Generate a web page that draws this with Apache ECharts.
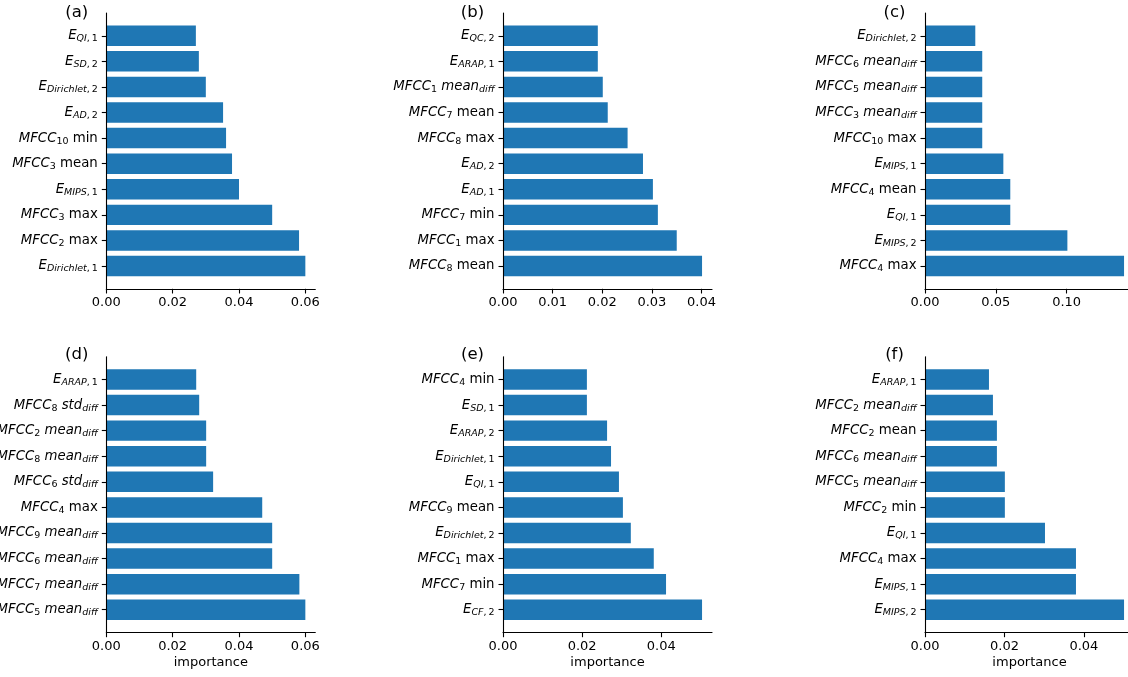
<!DOCTYPE html>
<html>
<head>
<meta charset="utf-8">
<script src="https://cdn.jsdelivr.net/npm/echarts@6/dist/echarts.min.js"></script>
<style>
html, body { margin: 0; padding: 0; background: #fff; }
#main { width: 1128px; height: 677px; }
</style>
</head>
<body>
<div id="main"></div>
<script>
// categories listed bottom -> top (same order as matplotlib barh)
var labelsA = ['E_{Dirichlet,1}', 'MFCC_{2} max', 'MFCC_{3} max', 'E_{MIPS,1}', 'MFCC_{3} mean',
    'MFCC_{10} min', 'E_{AD,2}', 'E_{Dirichlet,2}', 'E_{SD,2}', 'E_{QI,1}'];
var valuesA = [0.0600, 0.0581, 0.0500, 0.0400, 0.0379, 0.0361, 0.0352, 0.0300, 0.0279, 0.0270];

var labelsB = ['MFCC_{8} mean', 'MFCC_{1} max', 'MFCC_{7} min', 'E_{AD,1}', 'E_{AD,2}',
    'MFCC_{8} max', 'MFCC_{7} mean', 'MFCC_{1} mean_{diff}', 'E_{ARAP,1}', 'E_{QC,2}'];
var valuesB = [0.0401, 0.0350, 0.0312, 0.0302, 0.0282, 0.0251, 0.0211, 0.0201, 0.0191, 0.0191];

var labelsC = ['MFCC_{4} max', 'E_{MIPS,2}', 'E_{QI,1}', 'MFCC_{4} mean', 'E_{MIPS,1}',
    'MFCC_{10} max', 'MFCC_{3} mean_{diff}', 'MFCC_{5} mean_{diff}', 'MFCC_{6} mean_{diff}', 'E_{Dirichlet,2}'];
var valuesC = [0.1405, 0.1005, 0.0602, 0.0602, 0.0553, 0.0404, 0.0404, 0.0404, 0.0404, 0.0355];

var labelsD = ['MFCC_{5} mean_{diff}', 'MFCC_{7} mean_{diff}', 'MFCC_{6} mean_{diff}', 'MFCC_{9} mean_{diff}', 'MFCC_{4} max',
    'MFCC_{6} std_{diff}', 'MFCC_{8} mean_{diff}', 'MFCC_{2} mean_{diff}', 'MFCC_{8} std_{diff}', 'E_{ARAP,1}'];
var valuesD = [0.0600, 0.0582, 0.0500, 0.0500, 0.0470, 0.0322, 0.0301, 0.0301, 0.0280, 0.0271];

var labelsE = ['E_{CF,2}', 'MFCC_{7} min', 'MFCC_{1} max', 'E_{Dirichlet,2}', 'MFCC_{9} mean',
    'E_{QI,1}', 'E_{Dirichlet,1}', 'E_{ARAP,2}', 'E_{SD,1}', 'MFCC_{4} min'];
var valuesE = [0.0503, 0.0412, 0.0381, 0.0323, 0.0303, 0.0293, 0.0273, 0.0263, 0.0212, 0.0212];

var labelsF = ['E_{MIPS,2}', 'E_{MIPS,1}', 'MFCC_{4} max', 'E_{QI,1}', 'MFCC_{2} min',
    'MFCC_{5} mean_{diff}', 'MFCC_{6} mean_{diff}', 'MFCC_{2} mean', 'MFCC_{2} mean_{diff}', 'E_{ARAP,1}'];
var valuesF = [0.0501, 0.0380, 0.0380, 0.0302, 0.0201, 0.0201, 0.0181, 0.0181, 0.0171, 0.0161];

var ticksA = [0, 0.02, 0.04, 0.06];
var ticksB = [0, 0.01, 0.02, 0.03, 0.04];
var ticksC = [0, 0.05, 0.10];
var ticksD = [0, 0.02, 0.04, 0.06];
var ticksE = [0, 0.02, 0.04];
var ticksF = [0, 0.02, 0.04];

var panelNames = ['(a)', '(b)', '(c)', '(d)', '(e)', '(f)'];
var xName = 'importance';

var panels = [
    { labels: labelsA, values: valuesA, ticks: ticksA },
    { labels: labelsB, values: valuesB, ticks: ticksB },
    { labels: labelsC, values: valuesC, ticks: ticksC },
    { labels: labelsD, values: valuesD, ticks: ticksD },
    { labels: labelsE, values: valuesE, ticks: ticksE },
    { labels: labelsF, values: valuesF, ticks: ticksF }
];

var FONT = 'DejaVu Sans';
var BLUE = '#1f77b4';

// turn 'MFCC_{3} mean_{diff}' into echarts rich text (mathtext look)
function mathLabel(s) {
    var out = [];
    var words = s.split(' ');
    for (var i = 0; i < words.length; i++) {
        var w = words[i];
        if (i > 0) out.push('{rm| }');
        var k = w.indexOf('_{');
        if (k < 0) {
            out.push('{rm|' + w + '}');
            continue;
        }
        out.push('{it|' + w.slice(0, k) + '}');
        var sub = w.slice(k + 2, w.length - 1);
        var runs = sub.match(/[A-Za-z]+|[^A-Za-z]+/g);
        for (var j = 0; j < runs.length; j++) {
            if (/[A-Za-z]/.test(runs[j])) out.push('{si|' + runs[j] + '}');
            else out.push('{sr|' + runs[j].replace(',', ',\u2009') + '}');
        }
    }
    return out.join('');
}

var richStyles = {
    rm: { fontFamily: FONT, fontSize: 13.3, color: '#000', lineHeight: 16 },
    it: { fontFamily: FONT, fontSize: 13.3, fontStyle: 'italic', color: '#000', lineHeight: 16 },
    si: { fontFamily: FONT, fontSize: 9.5, fontStyle: 'italic', color: '#000', lineHeight: 10, padding: [6, 0, 0, 0] },
    sr: { fontFamily: FONT, fontSize: 9.5, color: '#000', lineHeight: 10, padding: [6, 0, 0, 0] }
};

var lefts = [106.3, 503, 925];
var tops = [13, 356.7];
var W = 209, H = 275.8;
var UNITS = 10.78;           // -0.89 .. 9.89 like matplotlib margins
var band = H / UNITS;

var grids = [], xAxes = [], yAxes = [], series = [], graphics = [];

panels.forEach(function (p, i) {
    var row = Math.floor(i / 3), col = i % 3;
    var left = lefts[col], top = tops[row];
    var xmax = Math.max.apply(null, p.values) * 1.05;
    var g0 = grids.length;

    // outer grid: spines + x ticks
    grids.push({ left: left, top: top, width: W, height: H, outerBoundsMode: 'none' });
    // inner grid: bars + category labels
    grids.push({ left: left, top: top + 0.39 * band, width: W, height: band * 10, outerBoundsMode: 'none' });

    xAxes.push({
        type: 'value', gridIndex: g0, min: 0, max: xmax, z: 10,
        axisLine: { show: true, lineStyle: { color: '#000', width: 1.1 } },
        axisTick: { show: true, length: 4.7, customValues: p.ticks, lineStyle: { color: '#000', width: 1.1 } },
        axisLabel: {
            customValues: p.ticks, margin: 7.5, fontFamily: FONT, fontSize: 13, color: '#000',
            formatter: function (v) { return v.toFixed(2); }
        },
        splitLine: { show: false },
        name: row === 1 ? xName : '', nameLocation: 'middle', nameGap: 24,
        nameTextStyle: { fontFamily: FONT, fontSize: 13, color: '#000' }
    });
    xAxes.push({ type: 'value', gridIndex: g0 + 1, min: 0, max: xmax, show: false });

    yAxes.push({
        type: 'value', gridIndex: g0, min: 0, max: 1, z: 10,
        axisLine: { show: true, lineStyle: { color: '#000', width: 1.1 } },
        axisTick: { show: false }, axisLabel: { show: false }, splitLine: { show: false }
    });
    yAxes.push({
        type: 'category', gridIndex: g0 + 1, data: p.labels,
        axisLine: { show: false },
        axisTick: { show: true, alignWithLabel: true, length: 4.5, lineStyle: { color: '#000', width: 1.1 } },
        axisLabel: {
            margin: 8.5, interval: 0,
            formatter: mathLabel, rich: richStyles
        },
        splitLine: { show: false }
    });

    series.push({
        type: 'bar', xAxisIndex: g0 + 1, yAxisIndex: g0 + 1,
        data: p.values, barWidth: '80%', silent: true,
        itemStyle: { color: BLUE }
    });

    graphics.push({
        type: 'text',
        x: [76.7, 472.5, 894.5][col],
        y: [12.7, 355][row],
        style: {
            text: panelNames[i], font: '16.5px "DejaVu Sans"', fill: '#000',
            textAlign: 'center', textVerticalAlign: 'middle'
        }
    });
});

var myChart = echarts.init(document.getElementById('main'));
myChart.setOption({
    animation: false,
    backgroundColor: '#fff',
    grid: grids,
    xAxis: xAxes,
    yAxis: yAxes,
    series: series,
    graphic: graphics
});
</script>
</body>
</html>
